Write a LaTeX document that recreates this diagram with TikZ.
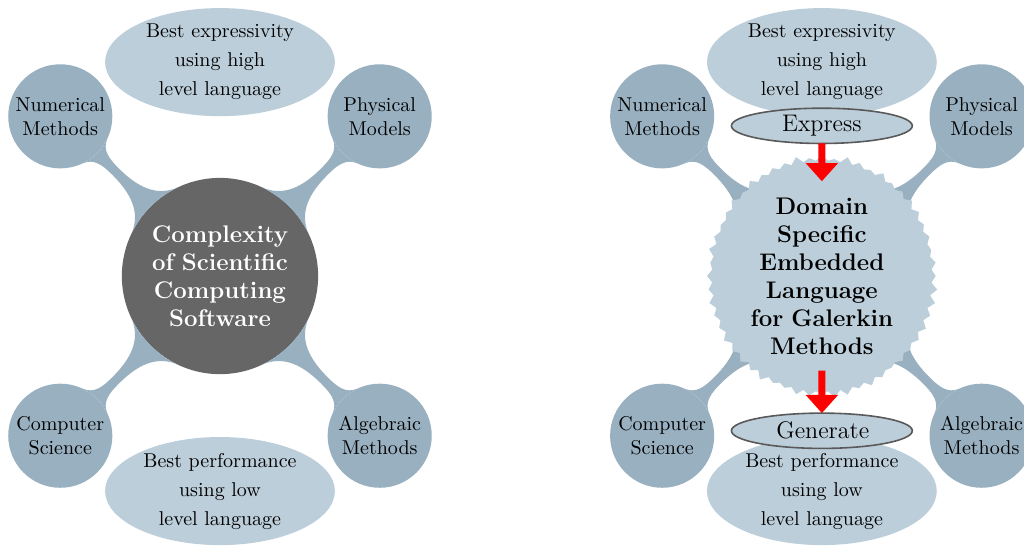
\documentclass[tikz,border=0pt]{standalone}
\usepackage[dvipsnames]{xcolor}
\usepackage{tikz}
\usetikzlibrary{mindmap,trees}
\usetikzlibrary{shapes,shapes.symbols,arrows.meta,positioning}
\definecolor{conceptblue}{RGB}{152,176,192}
\definecolor{paleblue}{RGB}{188,206,218}
\tikzset{
  hub/.style={
    concept,
    draw=none,
    minimum size=3.45cm,
    text width=2.65cm,
    inner sep=0pt,
    text centered,
    font=\large\bfseries
  },
  field/.style={
    concept,
    draw=none,
    minimum size=1.83cm,
    text width=1.6cm,
    inner sep=0pt,
    text centered,
    font=\normalsize
  },
  goal/.style={
    shape=ellipse,
    fill=paleblue,
    minimum width=4.04cm,
    minimum height=1.9cm,
    text width=2.8cm,
    inner sep=0pt,
    align=center,
    font=\fontsize{10}{14.5}\selectfont
  },
  stage/.style={
    shape=ellipse,
    draw=black!65,
    thick,
    fill=paleblue,
    minimum width=3.18cm,
    minimum height=0.62cm,
    text width=1.6cm,
    inner sep=0pt,
    align=center,
    font=\large
  },
  burst/.style={
    shape=starburst,
    starburst points=56,
    starburst point height=0.12cm,
    fill=paleblue,
    minimum width=4.1cm,
    minimum height=4.3cm,
    text width=2.7cm,
    inner sep=0pt,
    align=center,
    font=\large\bfseries
  },
  flow/.style={
    draw=red,
    line width=3.5pt,
    -{Triangle[width=0.55cm,length=0.32cm]}
  }
}

\begin{document}
\begin{tikzpicture}[mindmap, concept color=conceptblue,
    level 1 concept/.append style={level distance=3.97cm, sibling angle=90}]
    \useasboundingbox (-3.867,-4.729) rectangle (14.133,4.852);

    \node [hub, fill=black!60, text=white] (complexity) at (0,0) {
      Complexity\\of Scientific\\Computing\\Software
    }
    [clockwise from=135]
    child { node [field] (num-l) { Numerical\\Methods } }
    child { node [field] (phys-l) { Physical\\Models } }
    child { node [field] (alg-l) { Algebraic\\Methods } }
    child { node [field] (cs-l) { Computer\\Science } };

    \node [goal] (high-l) at (0,3.76) {
      Best expressivity\\using high\\level language
    };
    \node [goal] (low-l) at (0,-3.78) {
      Best performance\\using low\\level language
    };

    \node [hub, fill=none] (core-r) at (10.58,0) {}
    [clockwise from=135]
    child { node [field] (num-r) { Numerical\\Methods } }
    child { node [field] (phys-r) { Physical\\Models } }
    child { node [field] (alg-r) { Algebraic\\Methods } }
    child { node [field] (cs-r) { Computer\\Science } };

    \node [goal] (high-r) at (10.58,3.76) {
      Best expressivity\\using high\\level language
    };
    \node [goal] (low-r) at (10.58,-3.78) {
      Best performance\\using low\\level language
    };

    \node [burst] (dsl) at (10.58,0) {
      Domain\\Specific\\Embedded\\Language\\for Galerkin\\Methods
    };
    \node [stage] (express) at (10.58,2.64) { Express };
    \node [stage] (generate) at (10.58,-2.72) { Generate };

    \draw [flow] (express.south) -- ([yshift=-0.45cm]dsl.north);
    \draw [flow] ([yshift=0.4cm]dsl.south) -- (generate.north);
  \end{tikzpicture}
\end{document}
